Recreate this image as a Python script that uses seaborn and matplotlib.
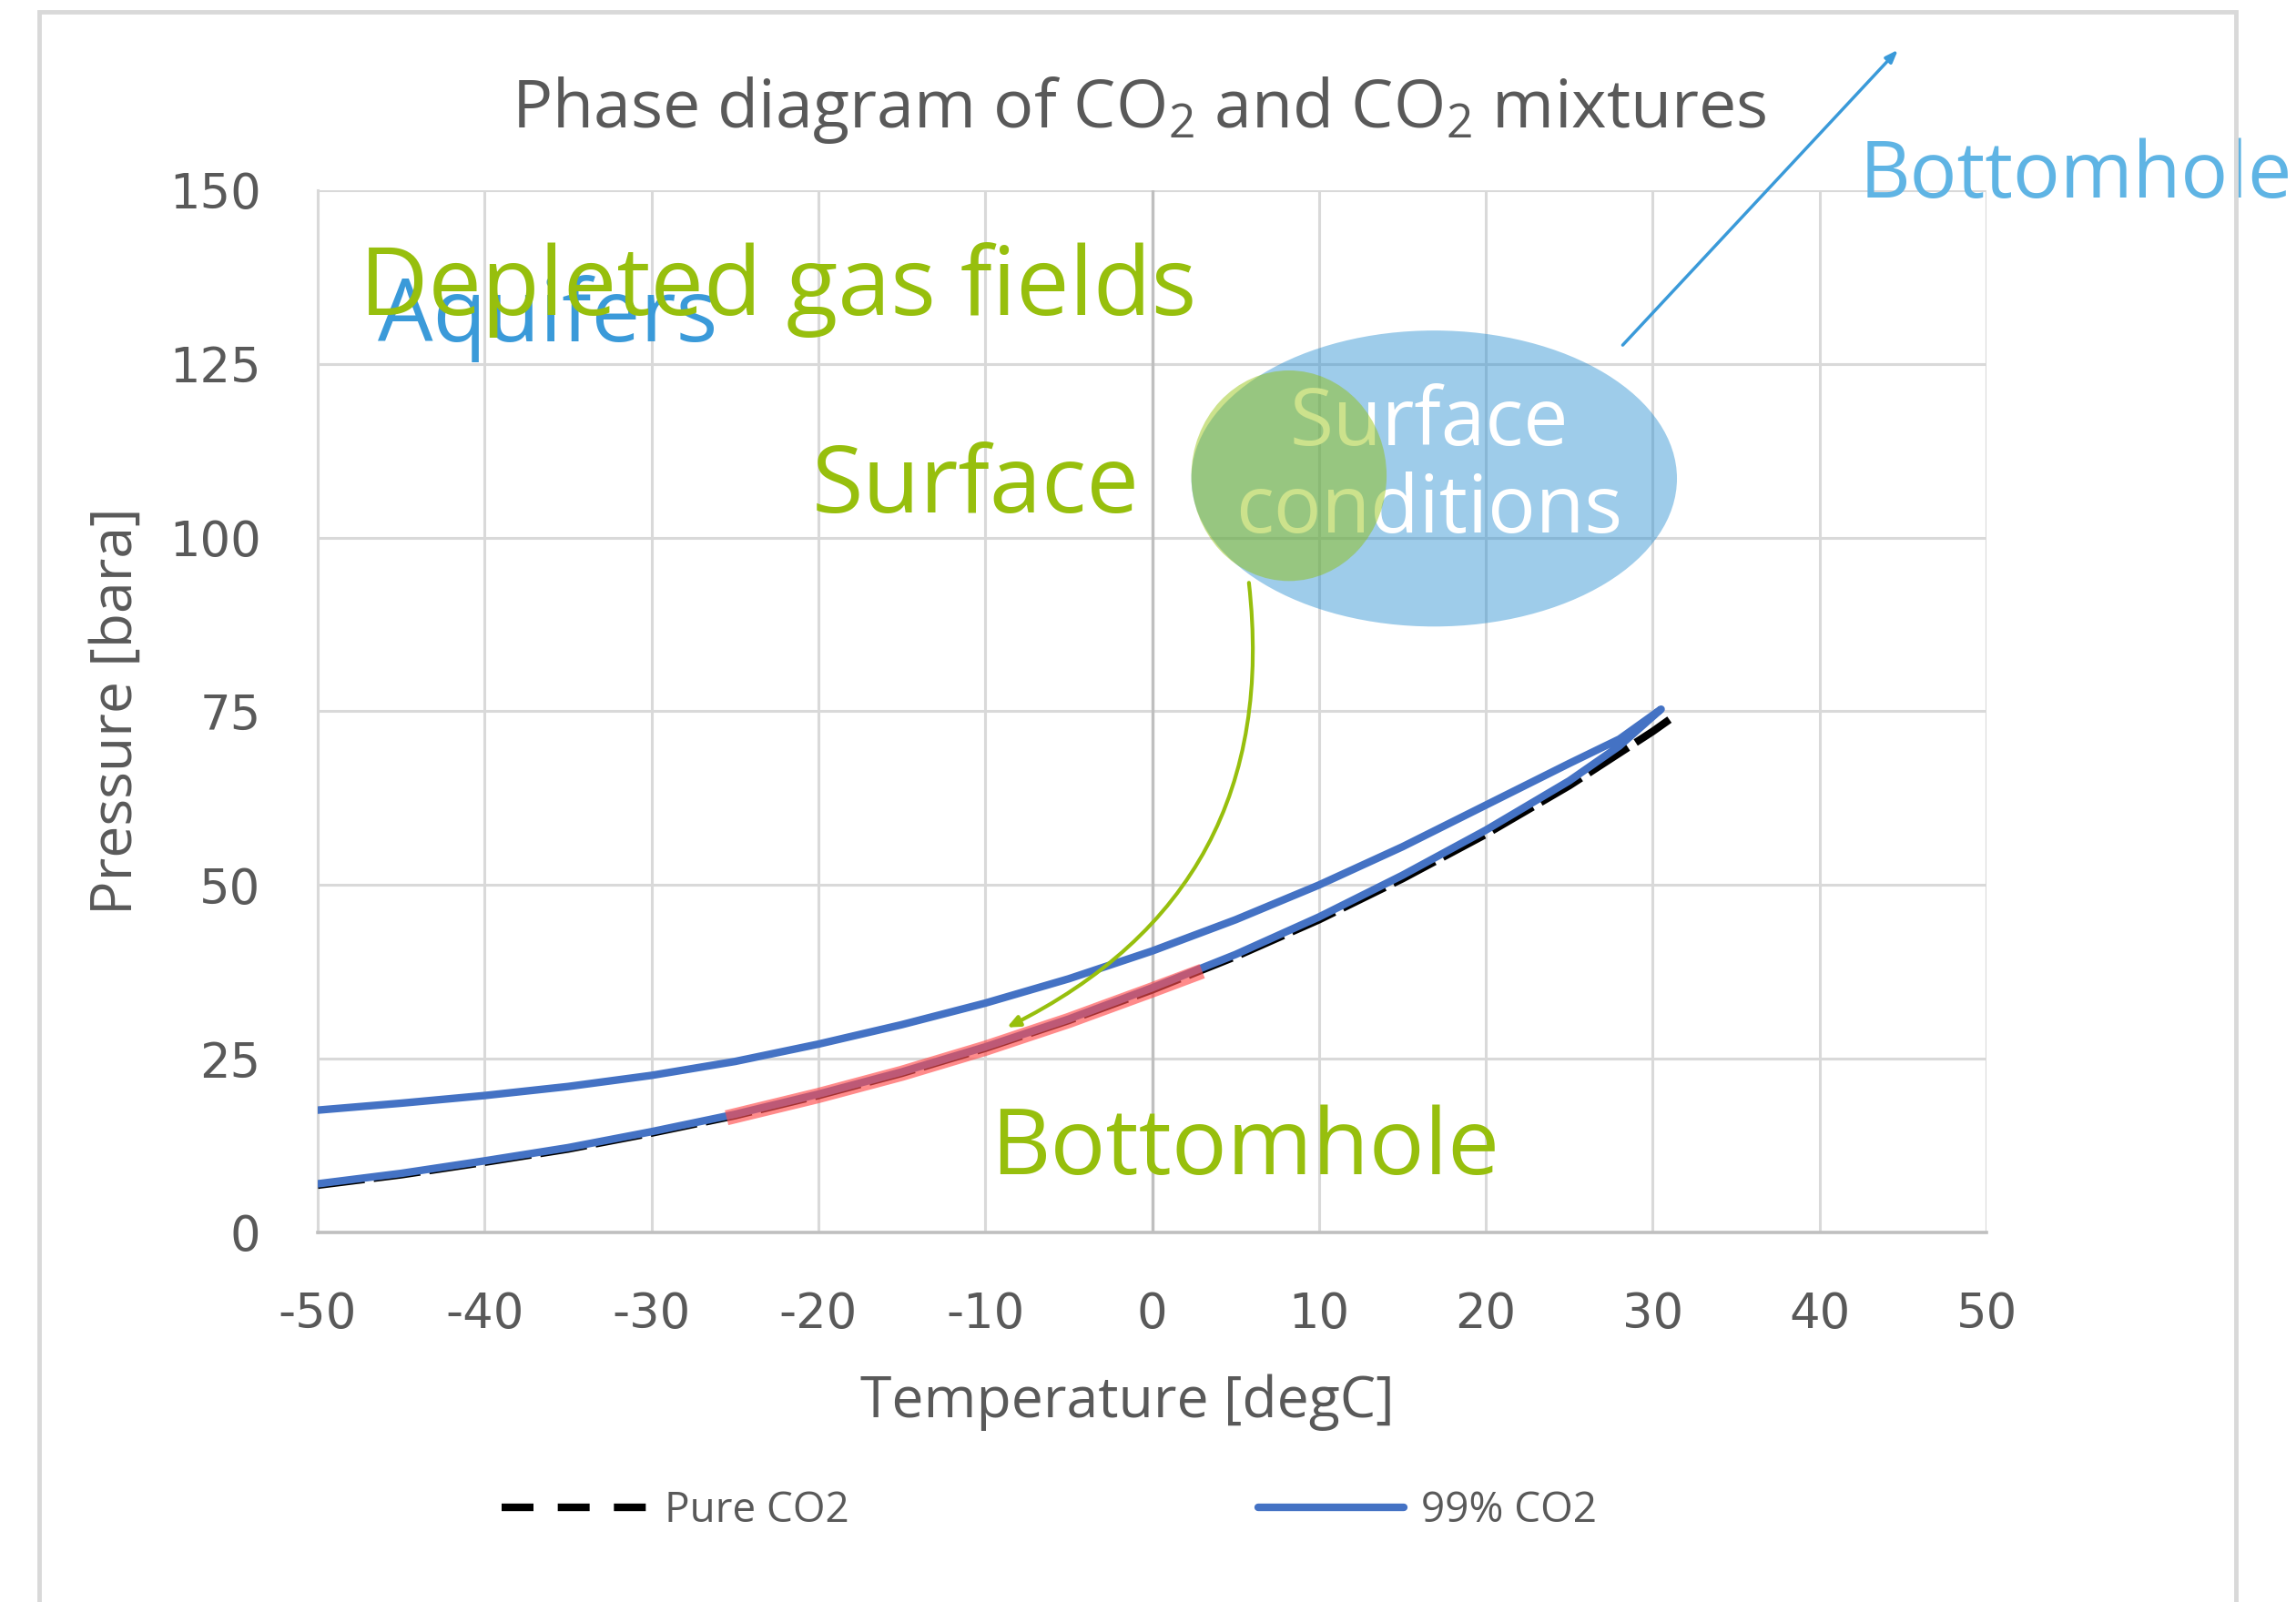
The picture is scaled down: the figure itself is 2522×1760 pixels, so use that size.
import matplotlib
matplotlib.use("Agg")
import pandas as pd
import matplotlib.pyplot as plt
import seaborn as sns
from matplotlib.lines import Line2D
from matplotlib.patches import Ellipse, Rectangle

# --- data ---
temp_pure = [-50, -45, -40, -35, -30, -25, -20, -15, -10, -5, 0, 5, 10, 15, 20, 25, 30, 31]
p_pure = [6.8, 8.3, 10.1, 12.0, 14.3, 16.8, 19.7, 22.9, 26.5, 30.5, 34.9, 39.7, 45.0, 50.9, 57.3, 64.3, 72.1, 73.8]

# 99% CO2 phase envelope: lower (dew) branch and upper (bubble) branch
temp_dew = [-50, -45, -40, -35, -30, -25, -20, -15, -10, -5, 0, 5, 10, 15, 20, 25, 28, 30.5]
p_dew = [7.0, 8.5, 10.3, 12.2, 14.5, 17.0, 19.9, 23.1, 26.7, 30.7, 35.2, 40.0, 45.4, 51.4, 57.9, 65.0, 70.0, 75.3]
temp_bub = [-50, -45, -40, -35, -30, -25, -20, -15, -10, -5, 0, 5, 10, 15, 20, 25, 28, 30.5]
p_bub = [17.6, 18.6, 19.7, 21.0, 22.6, 24.6, 27.1, 29.9, 33.0, 36.5, 40.5, 45.0, 50.0, 55.5, 61.5, 67.5, 71.0, 75.3]

# highlighted operating range on the saturation line
temp_red = [-25.5, -20, -15, -10, -5, 0, 3]
p_red = [16.5, 19.7, 22.9, 26.5, 30.5, 34.9, 37.6]

series_names = ["Pure CO2", "99% CO2"]
x_ticks = list(range(-50, 51, 10))
y_ticks = list(range(0, 151, 25))

GRAY_TXT = "#595959"
GREEN = "#97bf0d"
BLUE_TXT = "#3a9ad9"
ANN_FONT = "Open Sans"
LINE_COLORS = {"Pure CO2": "black", "99% CO2": "#4472c4"}

df_pure = pd.DataFrame({"Temperature": temp_pure, "Pressure": p_pure, "series": series_names[0]})
df_99 = pd.DataFrame({"Temperature": temp_dew + temp_bub[::-1],
                      "Pressure": p_dew + p_bub[::-1],
                      "series": series_names[1]})
df = pd.concat([df_pure, df_99], ignore_index=True)

sns.set_style("white")
plt.rcParams["font.family"] = ["DejaVu Sans"]
plt.rcParams["axes.unicode_minus"] = False
plt.rcParams["mathtext.default"] = "regular"

fig = plt.figure(figsize=(25.22, 17.6), dpi=100)
ax = fig.add_axes([0.1384, 0.2307, 0.7268, 0.6506])

sns.lineplot(data=df, x="Temperature", y="Pressure", hue="series", style="series",
             palette=LINE_COLORS, dashes={"Pure CO2": (6.2, 1.2), "99% CO2": ""},
             sort=False, estimator=None, linewidth=6, ax=ax, zorder=3, legend=False)

ax.plot(temp_red, p_red, color="#ff4d4d", alpha=0.65, lw=12, solid_capstyle="butt", zorder=5)

# --- axes styling ---
ax.set_xlim(-50, 50)
ax.set_ylim(0, 150)
ax.set_xticks(x_ticks)
ax.set_yticks(y_ticks)
ax.grid(True, color="#d9d9d9", lw=2.2)
ax.set_axisbelow(True)
for s in ["top", "right"]:
    ax.spines[s].set_visible(False)
ax.spines["left"].set_color("#d9d9d9")
ax.spines["left"].set_linewidth(2.2)
ax.spines["bottom"].set_color("#bfbfbf")
ax.spines["bottom"].set_linewidth(2.6)
ax.axvline(0, color="#bfbfbf", lw=2.4, zorder=1)
ax.tick_params(axis="x", length=0, pad=46, labelsize=38, labelcolor=GRAY_TXT)
ax.tick_params(axis="y", length=0, pad=45, labelsize=38, labelcolor=GRAY_TXT)

ax.set_xlabel("Temperature [degC]", fontsize=45, color=GRAY_TXT, family="Open Sans")
ax.set_ylabel("Pressure [bara]", fontsize=45, color=GRAY_TXT, family="Open Sans")
ax.xaxis.set_label_coords(0.485, -0.136)
ax.yaxis.set_label_coords(-0.103, 0.5)

fig.text(0.496, 0.931, "Phase diagram of CO$_2$ and CO$_2$ mixtures", ha="center", va="center",
         fontsize=53, color=GRAY_TXT, family="Open Sans")

# --- legend: the legend swatch uses a coarser dash than the plotted curve ---
legend_handles = [Line2D([], [], color=LINE_COLORS["Pure CO2"], lw=6, dashes=(4.2, 3.2)),
                  Line2D([], [], color=LINE_COLORS["99% CO2"], lw=6)]
fig.legend(legend_handles, series_names, loc="center", bbox_to_anchor=(0.457, 0.057), ncol=2,
           frameon=False, prop={"family": "Open Sans", "size": 33}, labelcolor=GRAY_TXT,
           handlelength=3.5, handletextpad=0.4, columnspacing=9.8)

# --- annotations ---
ax.add_patch(Ellipse((16.9, 108.5), 29.1, 42.6, facecolor="#298fd1", alpha=0.45, lw=0, zorder=6))
ax.text(16.6, 110.0, "Surface\nconditions", ha="center", va="center", color="white",
        fontsize=63, family=ANN_FONT, linespacing=1.12, zorder=7)
ax.add_patch(Ellipse((8.2, 108.9), 11.7, 30.3, facecolor="#8fbf00", alpha=0.45, lw=0, zorder=8))

ax.text(-46.4, 128.3, "Aquifers", color=BLUE_TXT, fontsize=69, family=ANN_FONT, zorder=9)
ax.text(-47.5, 132, "Depleted gas fields", color=GREEN, fontsize=75, family=ANN_FONT, zorder=10)
ax.text(-20.4, 103.6, "Surface", color=GREEN, fontsize=74, family=ANN_FONT, zorder=10)
ax.text(-9.7, 8.4, "Bottomhole", color=GREEN, fontsize=73, family=ANN_FONT, zorder=10)
ax.text(42.4, 149, "Bottomhole", color="#5fb4e4", fontsize=62, family=ANN_FONT, clip_on=False, zorder=10)

ax.annotate("", xy=(-8.7, 29.5), xytext=(5.8, 93.5),
            arrowprops=dict(arrowstyle="-|>,head_length=0.8,head_width=0.35", color=GREEN, lw=3,
                            shrinkA=0, shrinkB=0, connectionstyle="arc3,rad=-0.35"), zorder=10)
ax.annotate("", xy=(44.7, 170.2), xytext=(28.2, 127.7), annotation_clip=False,
            arrowprops=dict(arrowstyle="-|>,head_length=0.8,head_width=0.3", color=BLUE_TXT, lw=2.5,
                            shrinkA=0, shrinkB=0), zorder=10)

# outer chart frame
fig.patches.append(Rectangle((0.017, -0.02), 0.957, 1.0126, transform=fig.transFigure,
                             fill=False, ec="#d9d9d9", lw=3.5))

fig.savefig("out.png", dpi=100)
